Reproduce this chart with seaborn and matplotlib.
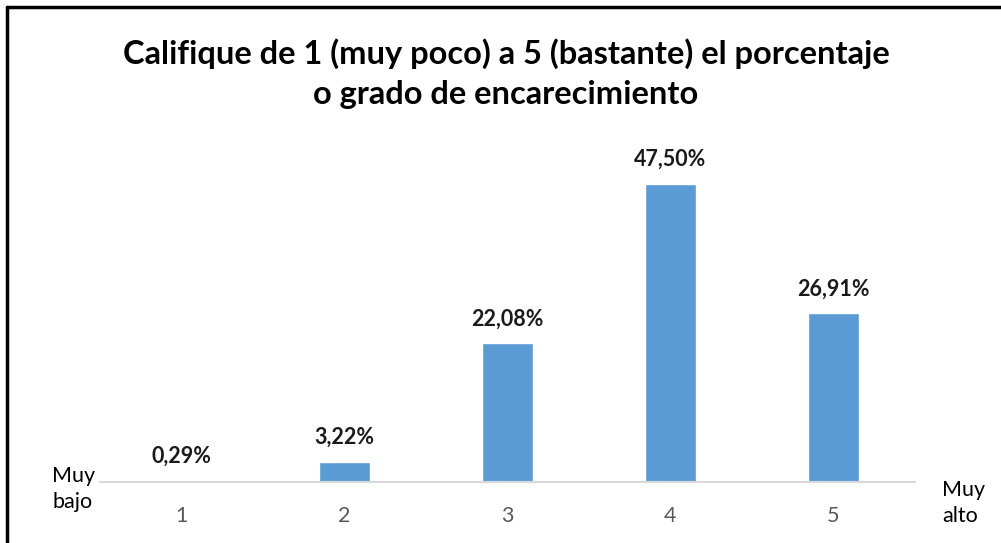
import matplotlib
matplotlib.use("Agg")
import matplotlib.pyplot as plt
import seaborn as sns
import pandas as pd
from matplotlib.lines import Line2D

categorias = ["1", "2", "3", "4", "5"]
porcentajes = [0.29, 3.22, 22.08, 47.50, 26.91]
titulo = "Califique de 1 (muy poco) a 5 (bastante) el porcentaje\no grado de encarecimiento"

df = pd.DataFrame({"categoria": categorias, "porcentaje": porcentajes})

sns.set_style("white")
plt.rcParams["font.family"] = ["Lato", "DejaVu Sans"]

fig = plt.figure(figsize=(10.01, 5.43), dpi=100)
ax = fig.add_axes([100 / 1001, 61 / 543, 815 / 1001, 342 / 543])

sns.barplot(data=df, x="categoria", y="porcentaje", color="#5B9BD5",
            width=0.31, saturation=1, ax=ax)

for i, v in enumerate(porcentajes):
    etiqueta = f"{v:.2f}".replace(".", ",") + "%"
    ax.annotate(etiqueta, (i, v), xytext=(0, 10), textcoords="offset points",
                ha="center", va="bottom", fontsize=15.5, fontweight="bold",
                color="#1a1a1a")

ax.set_xlim(-0.5, 4.5)
ax.set_ylim(0, 54.5)
ax.set_xlabel("")
ax.set_ylabel("")
ax.set_yticks([])
for s in ["top", "right", "left"]:
    ax.spines[s].set_visible(False)
ax.spines["bottom"].set_color("#d9d9d9")
ax.spines["bottom"].set_linewidth(1.5)
ax.tick_params(axis="x", length=0, pad=17, labelsize=15.5, labelcolor="#595959")

fig.text(506 / 1001, 1 - 74 / 543, titulo, ha="center", va="center",
         fontsize=23.5, fontweight="bold", color="#000000", linespacing=1.45)

fig.text(52 / 1001, 1 - 489 / 543, "Muy\nbajo", ha="left", va="center",
         fontsize=15.5, color="#000000", linespacing=1.4)
fig.text(942 / 1001, 1 - 503 / 543, "Muy\nalto", ha="left", va="center",
         fontsize=15.5, color="#000000", linespacing=1.4)

# marco parcial
fig.add_artist(Line2D([7 / 1001, 7 / 1001], [0, 1 - 7 / 543], color="black", lw=2.5))
fig.add_artist(Line2D([7 / 1001, 1], [1 - 7 / 543, 1 - 7 / 543], color="black", lw=2.5))

fig.savefig("out.png", dpi=100)
